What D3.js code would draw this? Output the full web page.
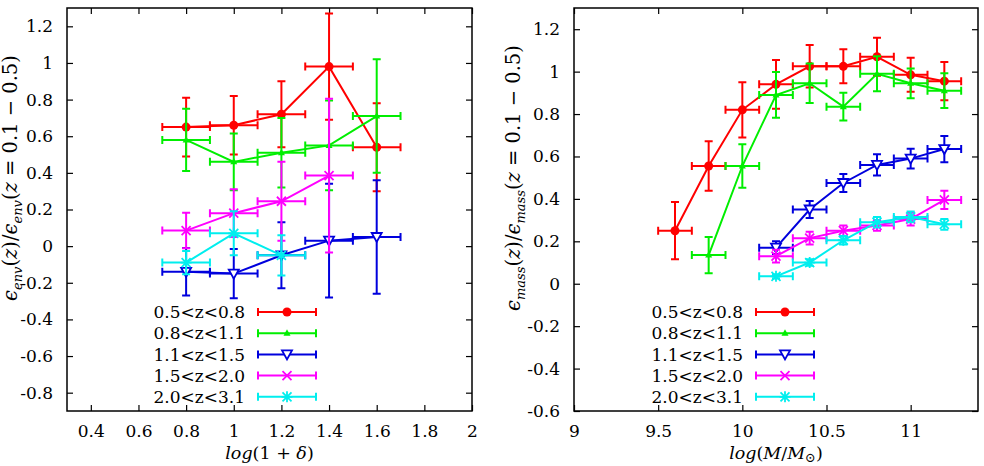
<!DOCTYPE html>
<html>
<head>
<meta charset="utf-8">
<script src="https://cdn.jsdelivr.net/npm/d3@7/dist/d3.min.js"></script>
<style>
body { margin: 0; background: #fff; }
svg text { font-family: "DejaVu Serif", serif; fill: #000; }
</style>
</head>
<body>
<div id="chart"></div>
<script>
// redshift bins, shared by both panels
var zLabels = ["0.5<z<0.8", "0.8<z<1.1", "1.1<z<1.5", "1.5<z<2.0", "2.0<z<3.1"];
var colors = ["#ff0000", "#00ee00", "#0000dd", "#ff00ff", "#00eeee"];
var symbols = ["circle", "triangle", "down", "cross", "star"];

// left panel: environment
var envX = [[0.8, 1.0, 1.2, 1.4, 1.6], [0.8, 1.0, 1.2, 1.4, 1.6], [0.8, 1.0, 1.2, 1.4, 1.6], [0.8, 1.0, 1.2, 1.4], [0.8, 1.0, 1.2]];
var envY = [
  [0.65, 0.66, 0.72, 0.98, 0.54],
  [0.58, 0.46, 0.51, 0.55, 0.71],
  [-0.14, -0.15, -0.05, 0.03, 0.05],
  [0.085, 0.18, 0.245, 0.385],
  [-0.09, 0.07, -0.05]
];
var envErr = [
  [0.16, 0.16, 0.18, 0.29, 0.24],
  [0.17, 0.155, 0.19, 0.245, 0.31],
  [0.13, 0.135, 0.18, 0.31, 0.31],
  [0.097, 0.13, 0.215, 0.42],
  [0.064, 0.12, 0.11]
];
var envXErr = 0.1;
var envXTicks = [0.4, 0.6, 0.8, 1, 1.2, 1.4, 1.6, 1.8, 2];
var envYTicks = [-0.8, -0.6, -0.4, -0.2, 0, 0.2, 0.4, 0.6, 0.8, 1, 1.2];

// right panel: stellar mass
var massX = [
  [9.6, 9.8, 10.0, 10.2, 10.4, 10.6, 10.8, 11.0, 11.2],
  [9.8, 10.0, 10.2, 10.4, 10.6, 10.8, 11.0, 11.2],
  [10.2, 10.4, 10.6, 10.8, 11.0, 11.2],
  [10.2, 10.4, 10.6, 10.8, 11.0, 11.2],
  [10.2, 10.4, 10.6, 10.8, 11.0, 11.2]
];
var massY = [
  [0.25, 0.555, 0.82, 0.94, 1.025, 1.025, 1.07, 0.985, 0.955],
  [0.135, 0.555, 0.89, 0.945, 0.835, 0.99, 0.945, 0.91],
  [0.17, 0.35, 0.475, 0.56, 0.59, 0.635],
  [0.13, 0.215, 0.25, 0.275, 0.305, 0.395],
  [0.035, 0.1, 0.205, 0.29, 0.315, 0.28]
];
var massErr = [
  [0.135, 0.117, 0.13, 0.115, 0.1, 0.08, 0.09, 0.08, 0.09],
  [0.085, 0.103, 0.108, 0.093, 0.065, 0.083, 0.07, 0.082],
  [0.03, 0.04, 0.042, 0.05, 0.047, 0.062],
  [0.03, 0.03, 0.025, 0.025, 0.03, 0.043],
  [0.01, 0.015, 0.02, 0.025, 0.025, 0.025]
];
var massXErr = 0.1;
var massXTicks = [9, 9.5, 10, 10.5, 11];
var massYTicks = [-0.6, -0.4, -0.2, 0, 0.2, 0.4, 0.6, 0.8, 1, 1.2];

var svg = d3.select("#chart").append("svg")
    .attr("width", 984)
    .attr("height", 466);

var cap = 4;

function drawMarker(g, type, cx, cy, color) {
  if (type == "circle") {
    g.append("circle").attr("cx", cx).attr("cy", cy).attr("r", 4.5).style("fill", color);
  } else if (type == "triangle") {
    g.append("path").attr("d", "M" + cx + "," + (cy - 4) + "L" + (cx + 3.5) + "," + (cy + 2.5) + "L" + (cx - 3.5) + "," + (cy + 2.5) + "Z")
      .style("fill", color);
  } else if (type == "down") {
    g.append("path").attr("d", "M" + (cx - 5) + "," + (cy - 4) + "L" + (cx + 5) + "," + (cy - 4) + "L" + cx + "," + (cy + 5) + "Z")
      .style("fill", "#fff").style("stroke", color).style("stroke-width", 1.8);
  } else {
    var p = "M" + (cx - 4.5) + "," + (cy - 4.5) + "L" + (cx + 4.5) + "," + (cy + 4.5) +
            "M" + (cx - 4.5) + "," + (cy + 4.5) + "L" + (cx + 4.5) + "," + (cy - 4.5);
    if (type == "star") p += "M" + cx + "," + (cy - 5.5) + "L" + cx + "," + (cy + 5.5) + "M" + (cx - 5.5) + "," + cy + "L" + (cx + 5.5) + "," + cy;
    g.append("path").attr("d", p).style("fill", "none").style("stroke", color).style("stroke-width", 1.8);
  }
}

// parts: [text, italic, "sub"/"up", shift]
function mathText(t, parts) {
  parts.forEach(function(p) {
    var s = t.append("tspan").text(p[0]);
    var sh = p[3] || 5;
    if (p[1]) s.style("font-style", "italic");
    if (p[2] == "sub") s.attr("dy", sh).style("font-size", "13px");
    if (p[2] == "up") s.attr("dy", -sh);
  });
}

function panel(opt) {
  var x = d3.scaleLinear().domain(opt.xDomain).range([opt.left, opt.right]);
  var y = d3.scaleLinear().domain(opt.yDomain).range([411, 8]);
  var g = svg.append("g");
  var fmt = function(d) { return String(d); };

  g.append("g").attr("transform", "translate(0,411)")
    .call(d3.axisBottom(x).tickValues(opt.xTicks).tickSize(-6).tickPadding(14).tickFormat(fmt));
  g.append("g").attr("transform", "translate(0,8)")
    .call(d3.axisTop(x).tickValues(opt.xTicks).tickSize(-6).tickFormat(""));
  g.append("g").attr("transform", "translate(" + opt.left + ",0)")
    .call(d3.axisLeft(y).tickValues(opt.yTicks).tickSize(-6).tickPadding(14).tickFormat(fmt));
  g.append("g").attr("transform", "translate(" + opt.right + ",0)")
    .call(d3.axisRight(y).tickValues(opt.yTicks).tickSize(-6).tickFormat(""));
  g.selectAll(".domain").remove();
  g.selectAll(".tick line").style("stroke", "#000").style("stroke-width", 1.2);
  g.selectAll(".tick text").style("font-family", "DejaVu Serif").style("font-size", "17px");

  g.append("rect")
    .attr("x", opt.left).attr("y", 8)
    .attr("width", opt.right - opt.left).attr("height", 403)
    .style("fill", "none").style("stroke", "#000").style("stroke-width", 1.5);

  // series
  opt.xs.forEach(function(xs, i) {
    var sg = g.append("g");
    var col = colors[i];
    var pts = xs.map(function(d, j) { return [d, opt.ys[i][j], opt.errs[i][j]]; });
    pts.forEach(function(p) {
      var cx = x(p[0]), cy = y(p[1]);
      var x0 = x(p[0] - opt.xErr), x1 = x(p[0] + opt.xErr);
      var y0 = y(p[1] - p[2]), y1 = y(p[1] + p[2]);
      var d = "M" + x0 + "," + cy + "L" + x1 + "," + cy +
              "M" + x0 + "," + (cy - cap) + "L" + x0 + "," + (cy + cap) +
              "M" + x1 + "," + (cy - cap) + "L" + x1 + "," + (cy + cap) +
              "M" + cx + "," + y0 + "L" + cx + "," + y1 +
              "M" + (cx - cap) + "," + y0 + "L" + (cx + cap) + "," + y0 +
              "M" + (cx - cap) + "," + y1 + "L" + (cx + cap) + "," + y1;
      sg.append("path").attr("d", d).style("fill", "none").style("stroke", col).style("stroke-width", 2);
    });
    sg.append("path")
      .datum(pts)
      .attr("d", d3.line().x(function(p) { return x(p[0]); }).y(function(p) { return y(p[1]); }))
      .style("fill", "none").style("stroke", col).style("stroke-width", 2);
    pts.forEach(function(p) { drawMarker(sg, symbols[i], x(p[0]), y(p[1]), col); });
  });

  // key
  zLabels.forEach(function(lab, i) {
    var ky = 312 + i * 21.2;
    var kg = g.append("g");
    kg.append("text").attr("x", opt.keyX).attr("y", ky).attr("dy", "0.36em")
      .style("text-anchor", "end").style("font-size", "17px").text(lab);
    var a = opt.keyX + 13, b = opt.keyX + 71;
    kg.append("path")
      .attr("d", "M" + a + "," + ky + "L" + b + "," + ky + "M" + a + "," + (ky - cap) + "L" + a + "," + (ky + cap) + "M" + b + "," + (ky - cap) + "L" + b + "," + (ky + cap))
      .style("fill", "none").style("stroke", colors[i]).style("stroke-width", 2);
    drawMarker(kg, symbols[i], (a + b) / 2, ky, colors[i]);
  });

  var xl = g.append("text").attr("x", (opt.left + opt.right) / 2).attr("y", 459)
    .style("text-anchor", "middle").style("font-size", "17.5px");
  mathText(xl, opt.xLabel);

  var yl = g.append("text")
    .attr("transform", "translate(" + opt.yLabelX + ",178) rotate(-90)")
    .style("text-anchor", "middle").style("font-size", "19.5px");
  mathText(yl, opt.yLabel);
}

panel({
  left: 67, right: 472,
  xDomain: [0.3, 2.0], yDomain: [-0.9, 1.3],
  xTicks: envXTicks, yTicks: envYTicks,
  xs: envX, ys: envY, errs: envErr, xErr: envXErr,
  keyX: 245, yLabelX: 17,
  xLabel: [["log", true], ["(1 + "], ["δ", true], [")"]],
  yLabel: [["ϵ", true], ["env", true, "sub"], ["(", false, "up"], ["z", true], [")/"], ["ϵ", true], ["env", true, "sub"], ["(", false, "up"], ["z", true], [" = 0.1 − 0.5)"]]
});

panel({
  left: 574, right: 978,
  xDomain: [9, 11.4], yDomain: [-0.6, 1.3],
  xTicks: massXTicks, yTicks: massYTicks,
  xs: massX, ys: massY, errs: massErr, xErr: massXErr,
  keyX: 743, yLabelX: 520,
  xLabel: [["log", true], ["("], ["M", true], ["/"], ["M", true], ["⊙", false, "sub", 2.5], [")", false, "up", 2.5]],
  yLabel: [["ϵ", true], ["mass", true, "sub"], ["(", false, "up"], ["z", true], [")/"], ["ϵ", true], ["mass", true, "sub"], ["(", false, "up"], ["z", true], [" = 0.1 − 0.5)"]]
});
</script>
</body>
</html>
